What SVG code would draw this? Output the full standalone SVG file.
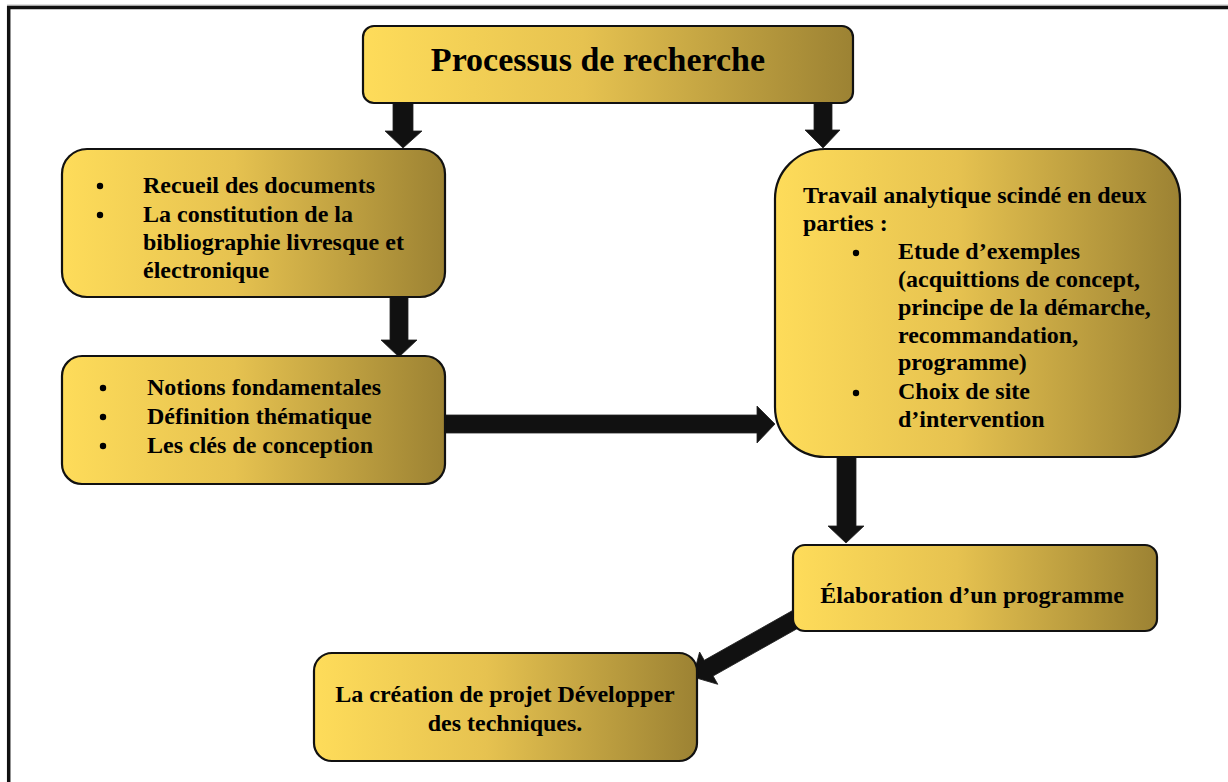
<svg xmlns="http://www.w3.org/2000/svg" width="1228" height="782" viewBox="0 0 1228 782">
<defs>
<linearGradient id="gold" x1="0" y1="0" x2="1" y2="0">
<stop offset="0" stop-color="#FEDC5A"/>
<stop offset="0.45" stop-color="#E6C250"/>
<stop offset="1" stop-color="#9C8233"/>
</linearGradient>
<style>
.box{fill:url(#gold);stroke:#111;stroke-width:2.2}
.arr{fill:#111;stroke:#222;stroke-width:0.8}
text{font-family:"Liberation Serif","Times New Roman",serif;font-weight:bold;fill:#000}
.t{font-size:24px}
.title{font-size:34px}
.frame{fill:none;stroke:#111;stroke-width:3.5}
</style>
</defs>
<rect width="1228" height="782" fill="#fff"/>
<path class="frame" d="M8.7,782 V7.5 H1228"/>
<line x1="7" y1="5.2" x2="1228" y2="5.2" stroke="#999" stroke-width="1"/>

<g id="connectors">
<path class="arr" d="M393,100 H413 V131 H422 L403,148 L385,131 H393 Z"/>
<path class="arr" d="M814,100 H832 V130 H840 L823,148 L805,130 H814 Z"/>
<path class="arr" d="M390,295 H408 V340 H417 L399,357 L381,340 H390 Z"/>
<path class="arr" d="M442,415 H757 V406 L775,424 L757,443 V433 H442 Z"/>
<path class="arr" d="M837,455 H856 V526 H864 L846,543 L828,526 H837 Z"/>
<path class="arr" transform="translate(693,677) rotate(-29.4)" d="M0,0 L18,-18.5 L18,-9 L130,-9 L130,9 L18,9 L18,18.5 Z"/>
</g>

<g id="title">
<rect class="box" x="363" y="26" width="490" height="77" rx="11"/>
<text class="title" x="598" y="71" text-anchor="middle">Processus de recherche</text>
</g>

<g id="recueil">
<rect class="box" x="62" y="149" width="383" height="148" rx="25"/>
<circle cx="100" cy="186" r="3.2"/>
<circle cx="100" cy="215" r="3.2"/>
<text class="t" x="143" y="193">Recueil des documents</text>
<text class="t" x="143" y="222">La constitution de la</text>
<text class="t" x="143" y="250">bibliographie livresque et</text>
<text class="t" x="143" y="278">électronique</text>
</g>

<g id="notions">
<rect class="box" x="62" y="356" width="383" height="128" rx="20"/>
<circle cx="103" cy="388" r="3.2"/>
<circle cx="103" cy="417" r="3.2"/>
<circle cx="103" cy="446" r="3.2"/>
<text class="t" x="147" y="395">Notions fondamentales</text>
<text class="t" x="147" y="424">Définition thématique</text>
<text class="t" x="147" y="453">Les clés de conception</text>
</g>

<g id="travail">
<rect class="box" x="775" y="149" width="405" height="308" rx="50"/>
<text class="t" x="803" y="203">Travail analytique scindé en deux</text>
<text class="t" x="803" y="231">parties :</text>
<circle cx="856" cy="253" r="3.2"/>
<circle cx="856" cy="393" r="3.2"/>
<text class="t" x="898" y="259">Etude d’exemples</text>
<text class="t" x="898" y="287">(acquittions de concept,</text>
<text class="t" x="898" y="315">principe de la démarche,</text>
<text class="t" x="898" y="343">recommandation,</text>
<text class="t" x="898" y="370">programme)</text>
<text class="t" x="898" y="399">Choix de site</text>
<text class="t" x="898" y="427">d’intervention</text>
</g>

<g id="elaboration">
<rect class="box" x="793" y="545" width="364" height="86" rx="12"/>
<text class="t" x="972" y="603" text-anchor="middle">Élaboration d’un programme</text>
</g>

<g id="creation">
<rect class="box" x="314" y="653" width="383" height="108" rx="18"/>
<text class="t" x="505" y="702" text-anchor="middle">La création de projet Développer</text>
<text class="t" x="505" y="731" text-anchor="middle">des techniques.</text>
</g>
</svg>
